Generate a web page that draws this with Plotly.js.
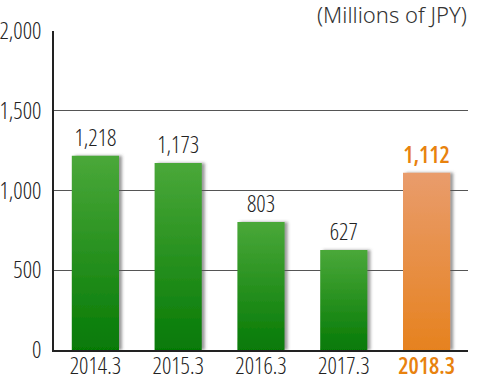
<!DOCTYPE html>
<html>
<head>
<meta charset="utf-8">
<script src="https://cdn.plot.ly/plotly-3.0.1.min.js"></script>
<style>
html,body{margin:0;padding:0;background:#fff;}
#chart{width:480px;height:376px;}
text:not(.annotation-text){font-stretch:75%;}
tspan[style*="bold"]{font-weight:600 !important;}
</style>
</head>
<body>
<div id="chart"></div>
<script>
const categories = ["2014.3", "2015.3", "2016.3", "2017.3", "2018.3"];
const values = [1218, 1173, 803, 627, 1112];
const valueLabels = ["1,218", "1,173", "803", "627", "<b>1,112</b>"];
const yTicks = [0, 500, 1000, 1500, 2000];
const unitTitle = "(Millions of JPY)";

const FONT = "Open Sans, sans-serif";
const green = "#3f9e2e", orange = "#e8893a";
const textColors = values.map((v, i) => i === values.length - 1 ? "#e8820e" : "#222");
const tickText = categories.map((c, i) => i === categories.length - 1
  ? '<span style="color:#e8820e"><b>' + c + '</b></span>' : c);

const trace = {
  type: "bar",
  x: categories,
  y: values,
  text: valueLabels,
  textposition: "outside",
  texttemplate: "%{text}",
  constraintext: "none",
  cliponaxis: false,
  textfont: {family: FONT, size: 23, color: textColors, weight: 300},
  marker: {color: values.map((v, i) => i === values.length - 1 ? orange : green), line: {width: 0}},
  hoverinfo: "skip"
};

const layout = {
  width: 480, height: 376,
  margin: {l: 54, r: 12, t: 31, b: 26},
  paper_bgcolor: "#fff", plot_bgcolor: "#fff",
  bargap: 0.43,
  showlegend: false,
  font: {family: FONT, size: 23, color: "#222", weight: 300},
  xaxis: {
    tickmode: "array", tickvals: categories, ticktext: tickText,
    showline: true, linecolor: "#222", linewidth: 2,
    ticks: "", showgrid: false, zeroline: false,
    tickfont: {family: FONT, size: 23, color: "#222", weight: 300}, ticklabelstandoff: -6
  },
  yaxis: {
    range: [0, 2000], tickvals: yTicks, tickformat: ",d",
    showline: true, linecolor: "#222", linewidth: 2,
    gridcolor: "#555", gridwidth: 1, zeroline: false,
    ticks: "", ticklabelstandoff: 6,
    tickfont: {family: FONT, size: 23, color: "#222", weight: 300}
  },
  annotations: [{
    text: unitTitle, xref: "paper", yref: "paper", x: 1, y: 1,
    xanchor: "right", yanchor: "bottom", yshift: 0, xshift: 1, showarrow: false,
    font: {family: "Noto Sans, sans-serif", size: 22, color: "#333"}
  }]
};

Plotly.newPlot("chart", [trace], layout, {displayModeBar: false, staticPlot: true}).then(gd => {
  const svg = gd.querySelector("svg.main-svg");
  const ns = "http://www.w3.org/2000/svg";
  let defs = svg.querySelector("defs");
  if (!defs) { defs = document.createElementNS(ns, "defs"); svg.insertBefore(defs, svg.firstChild); }
  defs.insertAdjacentHTML("beforeend",
    '<linearGradient id="gGreen" x1="0" y1="0" x2="0" y2="1">' +
      '<stop offset="0" stop-color="#4aa839"/><stop offset="1" stop-color="#067a06"/></linearGradient>' +
    '<linearGradient id="gOrange" x1="0" y1="0" x2="0" y2="1">' +
      '<stop offset="0" stop-color="#e99c6c"/><stop offset="1" stop-color="#e6821f"/></linearGradient>' +
    '<filter id="shadow" x="-20%" y="-5%" width="150%" height="110%">' +
      '<feDropShadow dx="3" dy="0" stdDeviation="1.5" flood-color="#555" flood-opacity="0.6"/></filter>');
  const paths = gd.querySelectorAll(".trace.bars .point path");
  paths.forEach((p, i) => {
    p.style.fill = i === paths.length - 1 ? "url(#gOrange)" : "url(#gGreen)";
    p.setAttribute("filter", "url(#shadow)");
  });
});
</script>
</body>
</html>
